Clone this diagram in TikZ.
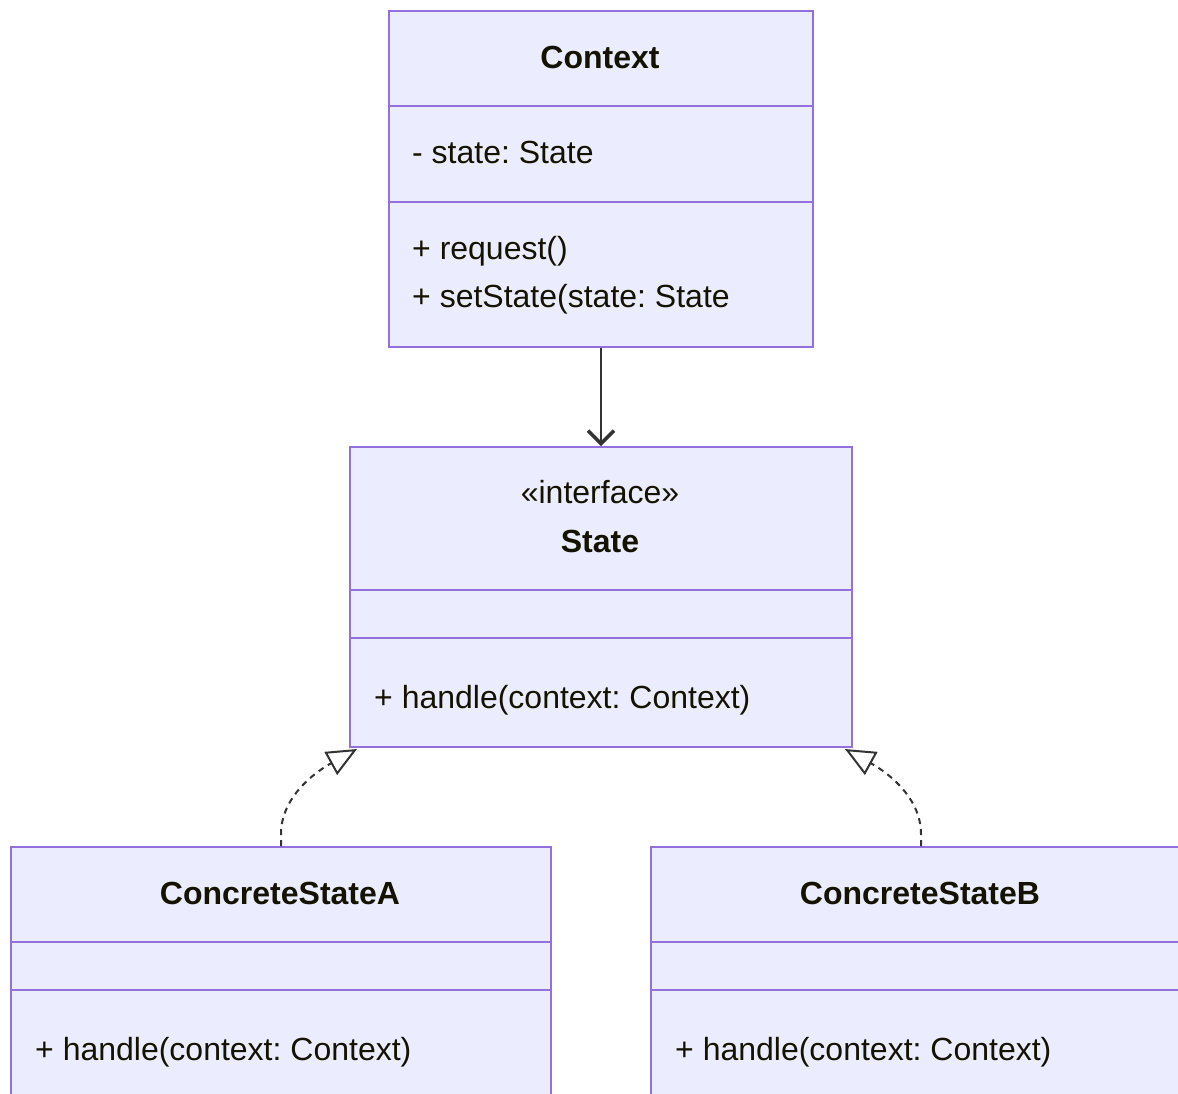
\documentclass[tikz,border=0pt]{standalone}
\usepackage{fontspec}
\setmainfont{Liberation Sans}
\usetikzlibrary{arrows.meta}
\definecolor{boxfill}{HTML}{ECECFF}
\definecolor{boxline}{HTML}{9370DB}
\definecolor{txt}{HTML}{131300}
\definecolor{edge}{HTML}{333333}
\frenchspacing
\begin{document}
\begin{tikzpicture}[x=1pt,y=-1pt,
  cls/.style={draw=boxline, fill=boxfill, line width=2pt, rectangle, inner sep=0pt, anchor=north west},
  divider/.style={draw=boxline, line width=2pt},
  member/.style={text=txt, font=\fontsize{32}{38}\selectfont, inner sep=0pt, anchor=base west},
  title/.style={text=txt, font=\fontsize{32}{38}\selectfont\bfseries, inner sep=0pt, anchor=base},
  stereo/.style={text=txt, font=\fontsize{32}{38}\selectfont, inner sep=0pt, anchor=base},
  assoc/.style={draw=edge, line width=2pt, -{Straight Barb[length=13pt,width=26pt,line width=3.5pt]}},
  realize/.style={draw=edge, line width=2pt, dash pattern=on 6pt off 5pt, -{Triangle[open,length=30pt,width=26pt,fill=white,line width=2pt]}}]
\clip (0,0) rectangle (1178,1093);
\fill[white] (0,0) rectangle (1178,1093);

% Context
\node[cls, minimum width=424pt, minimum height=336pt] (ctx) at (388,10) {};
\draw[divider] ([yshift=-96pt]ctx.north west) -- ([yshift=-96pt]ctx.north east);
\draw[divider] ([yshift=-192pt]ctx.north west) -- ([yshift=-192pt]ctx.north east);
\node[title] (ctxname) at (600,68) {Context};
\node[member] (ctxattr) at (412,163) {- state: State};
\node[member] (ctxm1) at (412,259) {+ request()};
\node[member] (ctxm2) at (412,307) {+ setState(state: State};

% State
\node[cls, minimum width=502pt, minimum height=300pt] (st) at (349,446) {};
\draw[divider] ([yshift=-144pt]st.north west) -- ([yshift=-144pt]st.north east);
\draw[divider] ([yshift=-192pt]st.north west) -- ([yshift=-192pt]st.north east);
\node[stereo] (ststereo) at (600,503) {«interface»};
\node[title] (stname) at (600,552) {State};
\node[member] (stm1) at (374,708) {+ handle(context: Context)};

% ConcreteStateA
\node[cls, minimum width=540pt, minimum height=300pt] (csA) at (10,846) {};
\draw[divider] ([yshift=-96pt]csA.north west) -- ([yshift=-96pt]csA.north east);
\draw[divider] ([yshift=-144pt]csA.north west) -- ([yshift=-144pt]csA.north east);
\node[title] (csAname) at (280,904) {ConcreteStateA};
\node[member] (csAm1) at (35,1060) {+ handle(context: Context)};

% ConcreteStateB
\node[cls, minimum width=540pt, minimum height=300pt] (csB) at (650,846) {};
\draw[divider] ([yshift=-96pt]csB.north west) -- ([yshift=-96pt]csB.north east);
\draw[divider] ([yshift=-144pt]csB.north west) -- ([yshift=-144pt]csB.north east);
\node[title] (csBname) at (920,904) {ConcreteStateB};
\node[member] (csBm1) at (675,1060) {+ handle(context: Context)};

% connectors
\draw[assoc] (ctx.south) -- (st.north);
\draw[realize] (csA.north) -- ++(0,-12) .. controls +(0,-38) and +(-40,22) .. ([xshift=8pt,yshift=-1pt]st.south west);
\draw[realize] (csB.north) -- ++(0,-12) .. controls +(0,-38) and +(40,22) .. ([xshift=-8pt,yshift=-1pt]st.south east);
\end{tikzpicture}
\end{document}
